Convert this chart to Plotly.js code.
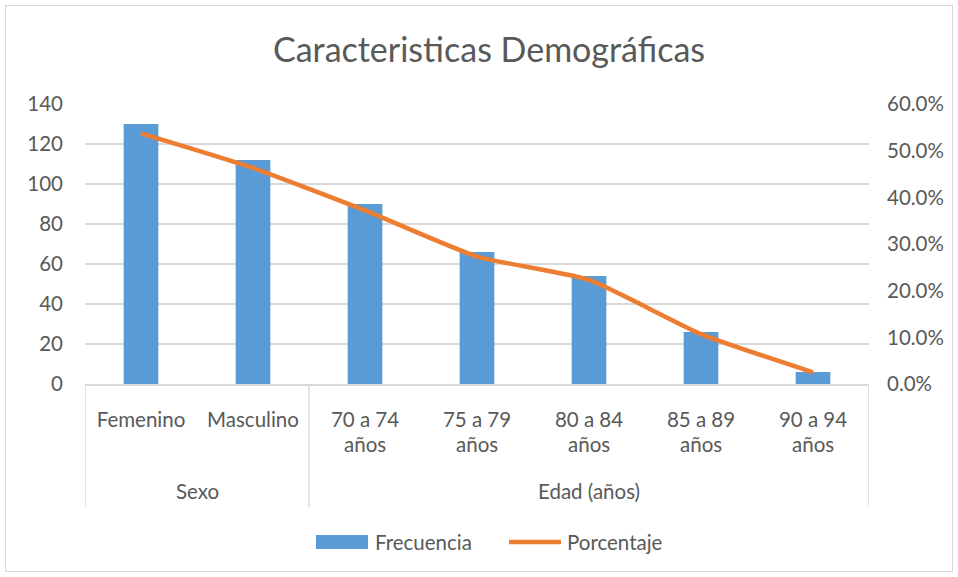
<!DOCTYPE html>
<html>
<head>
<meta charset="utf-8">
<script src="https://cdn.plot.ly/plotly-3.0.1.min.js"></script>
<style>
  html, body { margin: 0; padding: 0; background: #fff; }
  #wrap { position: relative; width: 958px; height: 577px; }
  #chart { width: 958px; height: 577px; }
  #border { position: absolute; left: 5px; top: 5px; width: 946px; height: 565px; border: 1px solid #D9D9D9; pointer-events: none; }
</style>
</head>
<body>
<div id="wrap"><div id="chart"></div><div id="border"></div></div>
<script>
// Data
const categoryLine1 = ["Femenino", "Masculino", "70 a 74", "75 a 79", "80 a 84", "85 a 89", "90 a 94"];
const categoryLine2 = ["", "", "años", "años", "años", "años", "años"];
const groupLabels = ["Sexo", "Edad (años)"];
const groupSizes = [2, 5];
const seriesNames = ["Frecuencia", "Porcentaje"];
const frecuencia = [130, 112, 90, 66, 54, 26, 6];
const porcentaje = [0.537, 0.463, 0.372, 0.273, 0.223, 0.107, 0.025];

const pos = categoryLine1.map((_, i) => i);
const gray = "#595959";
const grid = "#D9D9D9";
const blue = "#5B9BD5";
const orange = "#ED7D31";
const font = "Lato, 'Open Sans', sans-serif";
const fs = 20.5;

// plot area pixel geometry
const plotLeft = 85, plotRight = 869, plotTop = 104, plotBottom = 384;
const plotW = plotRight - plotLeft, plotH = plotBottom - plotTop;
const py = p => (plotBottom - p) / plotH; // pixel y -> paper y
const px = p => (p - plotLeft) / plotW;   // pixel x -> paper x

const shapes = [];
const annotations = [];
// group separators and labels
let start = 0;
shapes.push({type: "line", xref: "x", yref: "paper", x0: -0.5, x1: -0.5, y0: 0, y1: py(507), line: {color: grid, width: 1.5}});
groupSizes.forEach((n, g) => {
  const end = start + n;
  shapes.push({type: "line", xref: "x", yref: "paper", x0: end - 0.5, x1: end - 0.5, y0: 0, y1: py(507), line: {color: grid, width: 1.5}});
  annotations.push({xref: "x", yref: "paper", x: (start + end - 1) / 2, y: py(491), text: groupLabels[g], showarrow: false,
    font: {family: font, size: fs, color: gray}, yanchor: "middle"});
  start = end;
});
// second line of category labels
categoryLine2.forEach((t, i) => {
  if (t) annotations.push({xref: "x", yref: "paper", x: i, y: py(444), text: t, showarrow: false,
    font: {family: font, size: fs, color: gray}, yanchor: "middle"});
});
// custom legend (wide swatches as in the reference)
shapes.push({type: "rect", xref: "paper", yref: "paper", x0: px(316), x1: px(368), y0: py(549), y1: py(535),
  fillcolor: blue, line: {width: 0}});
shapes.push({type: "line", xref: "paper", yref: "paper", x0: px(509), x1: px(561), y0: py(542), y1: py(542),
  line: {color: orange, width: 4.5}});
annotations.push({xref: "paper", yref: "paper", x: px(373), y: py(542), xanchor: "left", yanchor: "middle",
  text: seriesNames[0], showarrow: false, font: {family: font, size: fs, color: gray}});
annotations.push({xref: "paper", yref: "paper", x: px(565), y: py(542), xanchor: "left", yanchor: "middle",
  text: seriesNames[1], showarrow: false, font: {family: font, size: fs, color: gray}});

const traces = [
  {type: "bar", name: seriesNames[0], x: pos, y: frecuencia, marker: {color: blue}, yaxis: "y"},
  {type: "scatter", mode: "lines", name: seriesNames[1], x: pos, y: porcentaje, yaxis: "y2",
   line: {color: orange, width: 4.5, shape: "spline", smoothing: 0.5}}
];

const layout = {
  width: 958, height: 577,
  margin: {l: plotLeft, r: 958 - plotRight, t: plotTop, b: 577 - plotBottom, pad: 0},
  paper_bgcolor: "#fff", plot_bgcolor: "#fff",
  font: {family: font, size: fs, color: gray},
  title: {text: "Caracteristicas Demográficas", font: {family: font, size: 34, color: gray},
          x: px(489), xref: "paper", xanchor: "center", y: 1 - 50 / 577, yanchor: "middle"},
  bargap: 0.69,
  showlegend: false,
  xaxis: {range: [-0.5, 6.5], tickvals: pos, ticktext: categoryLine1, showgrid: false, zeroline: false,
          showline: true, linecolor: grid, linewidth: 1.5, ticks: "", ticklabelstandoff: 17,
          tickfont: {family: font, size: fs, color: gray}, fixedrange: true},
  yaxis: {range: [0, 140], dtick: 20, showgrid: true, gridcolor: grid, gridwidth: 1.5, zeroline: false,
          showline: false, ticks: "", ticklabelstandoff: 21, tickfont: {family: font, size: fs, color: gray}},
  yaxis2: {range: [0, 0.6], dtick: 0.1, tickformat: ".1%", overlaying: "y", side: "right", showgrid: false,
           zeroline: false, showline: false, ticks: "", ticklabelstandoff: 17, tickfont: {family: font, size: fs, color: gray}},
  shapes: shapes,
  annotations: annotations
};

Plotly.newPlot("chart", traces, layout, {displayModeBar: false, staticPlot: true});
</script>
</body>
</html>
